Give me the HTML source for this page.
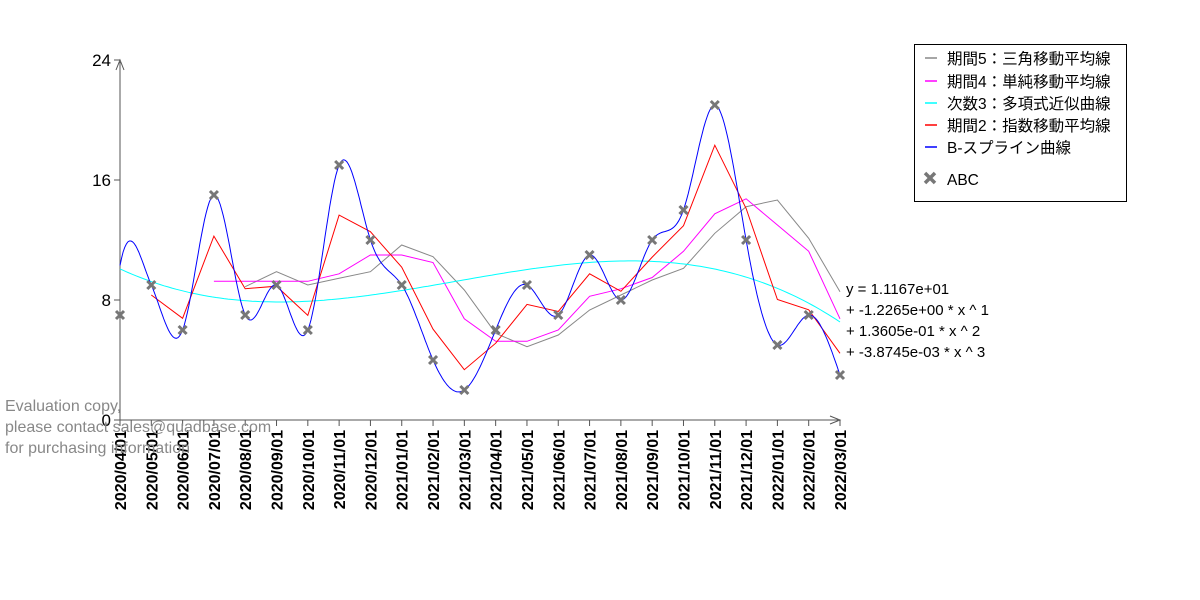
<!DOCTYPE html>
<html><head><meta charset="utf-8"><style>
body{margin:0;background:#fff;}
svg{display:block;font-family:"Liberation Sans","Noto Sans CJK JP",sans-serif;}
</style></head><body>
<svg id="s" width="1200" height="600" xmlns="http://www.w3.org/2000/svg">
<rect width="1200" height="600" fill="#fff"/>
<g id="g"></g>
<text x="5" y="411" font-size="16" fill="#888">Evaluation copy,</text>
<text x="5" y="432" font-size="16" fill="#888">please contact sales@quadbase.com</text>
<text x="5" y="453" font-size="16" fill="#888">for purchasing information</text>
<rect x="914.5" y="44.5" width="212" height="157" fill="#fff" stroke="#000"/>
<g font-size="15.5" fill="#000">
<line x1="925" y1="58" x2="937" y2="58" stroke="#888" stroke-width="1.5"/><text x="947" y="64">期間5：三角移動平均線</text>
<line x1="925" y1="81" x2="937" y2="81" stroke="#f0f" stroke-width="1.5"/><text x="947" y="87">期間4：単純移動平均線</text>
<line x1="925" y1="103" x2="937" y2="103" stroke="#0ff" stroke-width="1.5"/><text x="947" y="109">次数3：多項式近似曲線</text>
<line x1="925" y1="125" x2="937" y2="125" stroke="#f00" stroke-width="1.5"/><text x="947" y="131">期間2：指数移動平均線</text>
<line x1="925" y1="147" x2="937" y2="147" stroke="#00f" stroke-width="1.5"/><text x="947" y="153">B-スプライン曲線</text>
<path d="M925,173 L935,183 M935,173 L925,183" stroke="#777" stroke-width="3.5"/><text x="947" y="185">ABC</text>
</g>
<g font-size="15" fill="#000">
<text x="846" y="294">y = 1.1167e+01</text>
<text x="846" y="315">+ -1.2265e+00 * x ^ 1</text>
<text x="846" y="336">+ 1.3605e-01 * x ^ 2</text>
<text x="846" y="357">+ -3.8745e-03 * x ^ 3</text>
</g>
</svg>
<script>
const d=[7,9,6,15,7,9,6,17,12,9,4,2,6,9,7,11,8,12,14,21,12,5,7,3];
const X=i=>120+i*720/23, Y=v=>420-v*15;
let h='';
h+='<line x1="120" y1="420" x2="120" y2="62" stroke="#555"/><path d="M116,70 L120,60 L124,70" fill="none" stroke="#555"/>';
h+='<line x1="120" y1="420" x2="838" y2="420" stroke="#555"/><path d="M830,416 L840,420 L830,424" fill="none" stroke="#555"/>';
[[0,420],[8,300],[16,180],[24,60]].forEach(([v,y])=>{h+=`<line x1="114" y1="${y}" x2="120" y2="${y}" stroke="#555"/><text x="111" y="${y+6}" font-size="17" text-anchor="end">${v}</text>`;});
const mon=[];for(let i=0;i<24;i++){let m=4+i,yr=2020+Math.floor((m-1)/12);m=(m-1)%12+1;mon.push(`${yr}/${String(m).padStart(2,'0')}/01`);}
mon.forEach((t,i)=>{const x=X(i);h+=`<line x1="${x}" y1="420" x2="${x}" y2="426" stroke="#555"/><text transform="translate(${x+6},430) rotate(-90)" font-size="16" font-weight="bold" text-anchor="end">${t}</text>`;});
const pl=(pts,c)=>`<polyline fill="none" stroke="${c}" stroke-width="1" points="${pts.map(p=>p[0].toFixed(1)+','+p[1].toFixed(1)).join(' ')}"/>`;
const s3=[];for(let i=2;i<24;i++)s3[i]=(d[i]+d[i-1]+d[i-2])/3;
let t=[];for(let i=4;i<24;i++)t.push([X(i),Y((s3[i]+s3[i-1]+s3[i-2])/3)]);h+=pl(t,'#888');
t=[];for(let i=3;i<24;i++)t.push([X(i),Y((d[i]+d[i-1]+d[i-2]+d[i-3])/4)]);h+=pl(t,'#f0f');
t=[];for(let px=0;px<=720;px+=4){const x=1+px*23/720;t.push([120+px,Y(11.167-1.2265*x+0.13605*x*x-0.0038745*x*x*x)]);}h+=pl(t,'#0ff');
let e=d[0];t=[];for(let i=1;i<24;i++){e=e+(d[i]-e)*2/3;t.push([X(i),Y(e)]);}h+=pl(t,'#f00');
const n=24,a=d.slice(),M=new Array(n).fill(0);
a[0]=10.3;
{const c=new Array(n).fill(0),z=new Array(n).fill(0);
for(let i=1;i<n-1;i++){const r=6*(a[i+1]-2*a[i]+a[i-1]);const m=4-c[i-1];c[i]=1/m;z[i]=(r-z[i-1])/m;}
for(let i=n-2;i>0;i--)M[i]=z[i]-c[i]*M[i+1];}
const s1=(a[2]-a[1])-(2*M[1]+M[2])/6;
t=[];
for(let k=0;k<20;k++){const u=k/20;const h00=1-3*u*u+2*u*u*u,h10=u-2*u*u+u*u*u,h01=3*u*u-2*u*u*u,h11=u*u*u-u*u;t.push([X(u),Y(h00*a[0]+h10*11+h01*a[1]+h11*s1)]);}
for(let i=1;i<n-1;i++)for(let k=0;k<20;k++){const u=k/20;const v=(1-u)*a[i]+u*a[i+1]+((Math.pow(1-u,3)-(1-u))*M[i]+(u*u*u-u)*M[i+1])/6;t.push([X(i+u),Y(v)]);}
t.push([X(23),Y(a[23])]);h+=pl(t,'#00f');
d.forEach((v,i)=>{const x=X(i),y=Y(v);h+=`<path d="M${x-4},${y-4} L${x+4},${y+4} M${x+4},${y-4} L${x-4},${y+4}" stroke="#777" stroke-width="3"/>`;});
document.getElementById('g').innerHTML=h;
</script>
</body></html>
